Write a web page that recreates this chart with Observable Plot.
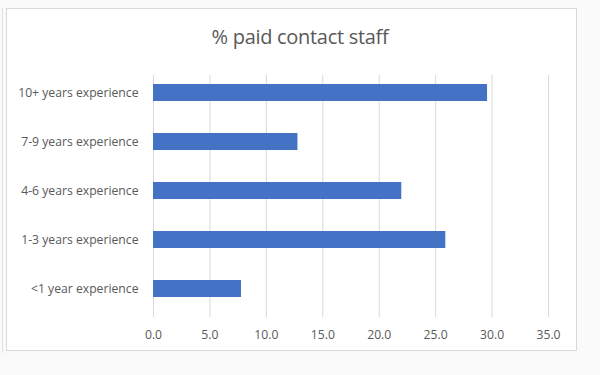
<!DOCTYPE html>
<html>
<head>
<meta charset="utf-8">
<script src="https://cdn.jsdelivr.net/npm/d3@7"></script>
<script src="https://cdn.jsdelivr.net/npm/@observablehq/plot@0.6"></script>
<style>
  html, body { margin: 0; padding: 0; background: #fafafa; }
  #wrap { position: relative; width: 600px; height: 375px; overflow: hidden; }
  #frame { position: absolute; left: 6px; top: 8px; width: 571px; height: 343px; background: #fff; border: 1px solid #d9d9d9; box-sizing: border-box; }
  #edge { position: absolute; left: 2px; top: 8px; width: 1px; height: 345px; background: #e0e0e0; }
  #title { position: absolute; left: 0; width: 600px; top: 23px; text-align: center; font-family: "Open Sans", Calibri, sans-serif; font-size: 20px; color: #595959; letter-spacing: -0.3px; }
  #chart { position: absolute; left: 0; top: 0; }
</style>
</head>
<body>
<div id="wrap">
  <div id="edge"></div>
  <div id="frame"></div>
  <div id="chart"></div>
  <div id="title">% paid contact staff</div>
</div>
<script>
const categories = ["10+ years experience", "7-9 years experience", "4-6 years experience", "1-3 years experience", "<1 year experience"];
const values = [29.6, 12.8, 22.0, 25.9, 7.8];
const xTicks = [0, 5, 10, 15, 20, 25, 30, 35];

const data = categories.map((c, i) => ({category: c, value: values[i]}));

const chart = Plot.plot({
  width: 600,
  height: 375,
  marginTop: 67,
  marginBottom: 60,
  marginLeft: 153,
  marginRight: 52,
  style: {background: "transparent", fontFamily: "'Open Sans', Calibri, sans-serif", fontSize: "12.2px", color: "#595959"},
  x: {domain: [0, 35], ticks: xTicks, tickFormat: d => d.toFixed(1), tickSize: 0, label: null},
  y: {domain: categories, paddingInner: 0.646, paddingOuter: 0.323, label: null, tickSize: 0},
  marks: [
    Plot.gridX(xTicks, {stroke: "#d9d9d9", strokeOpacity: 1, insetTop: 8, insetBottom: -2}),
    Plot.barX(data, {x: "value", y: "category", fill: "#4472c4"}),
    Plot.axisX({ticks: xTicks, tickFormat: d => d.toFixed(1), tickSize: 0, tickPadding: 15, label: null, fill: "#595959"}),
    Plot.axisY({tickSize: 0, tickPadding: 15, label: null, fill: "#595959"})
  ]
});
document.getElementById("chart").appendChild(chart);
</script>
</body>
</html>
